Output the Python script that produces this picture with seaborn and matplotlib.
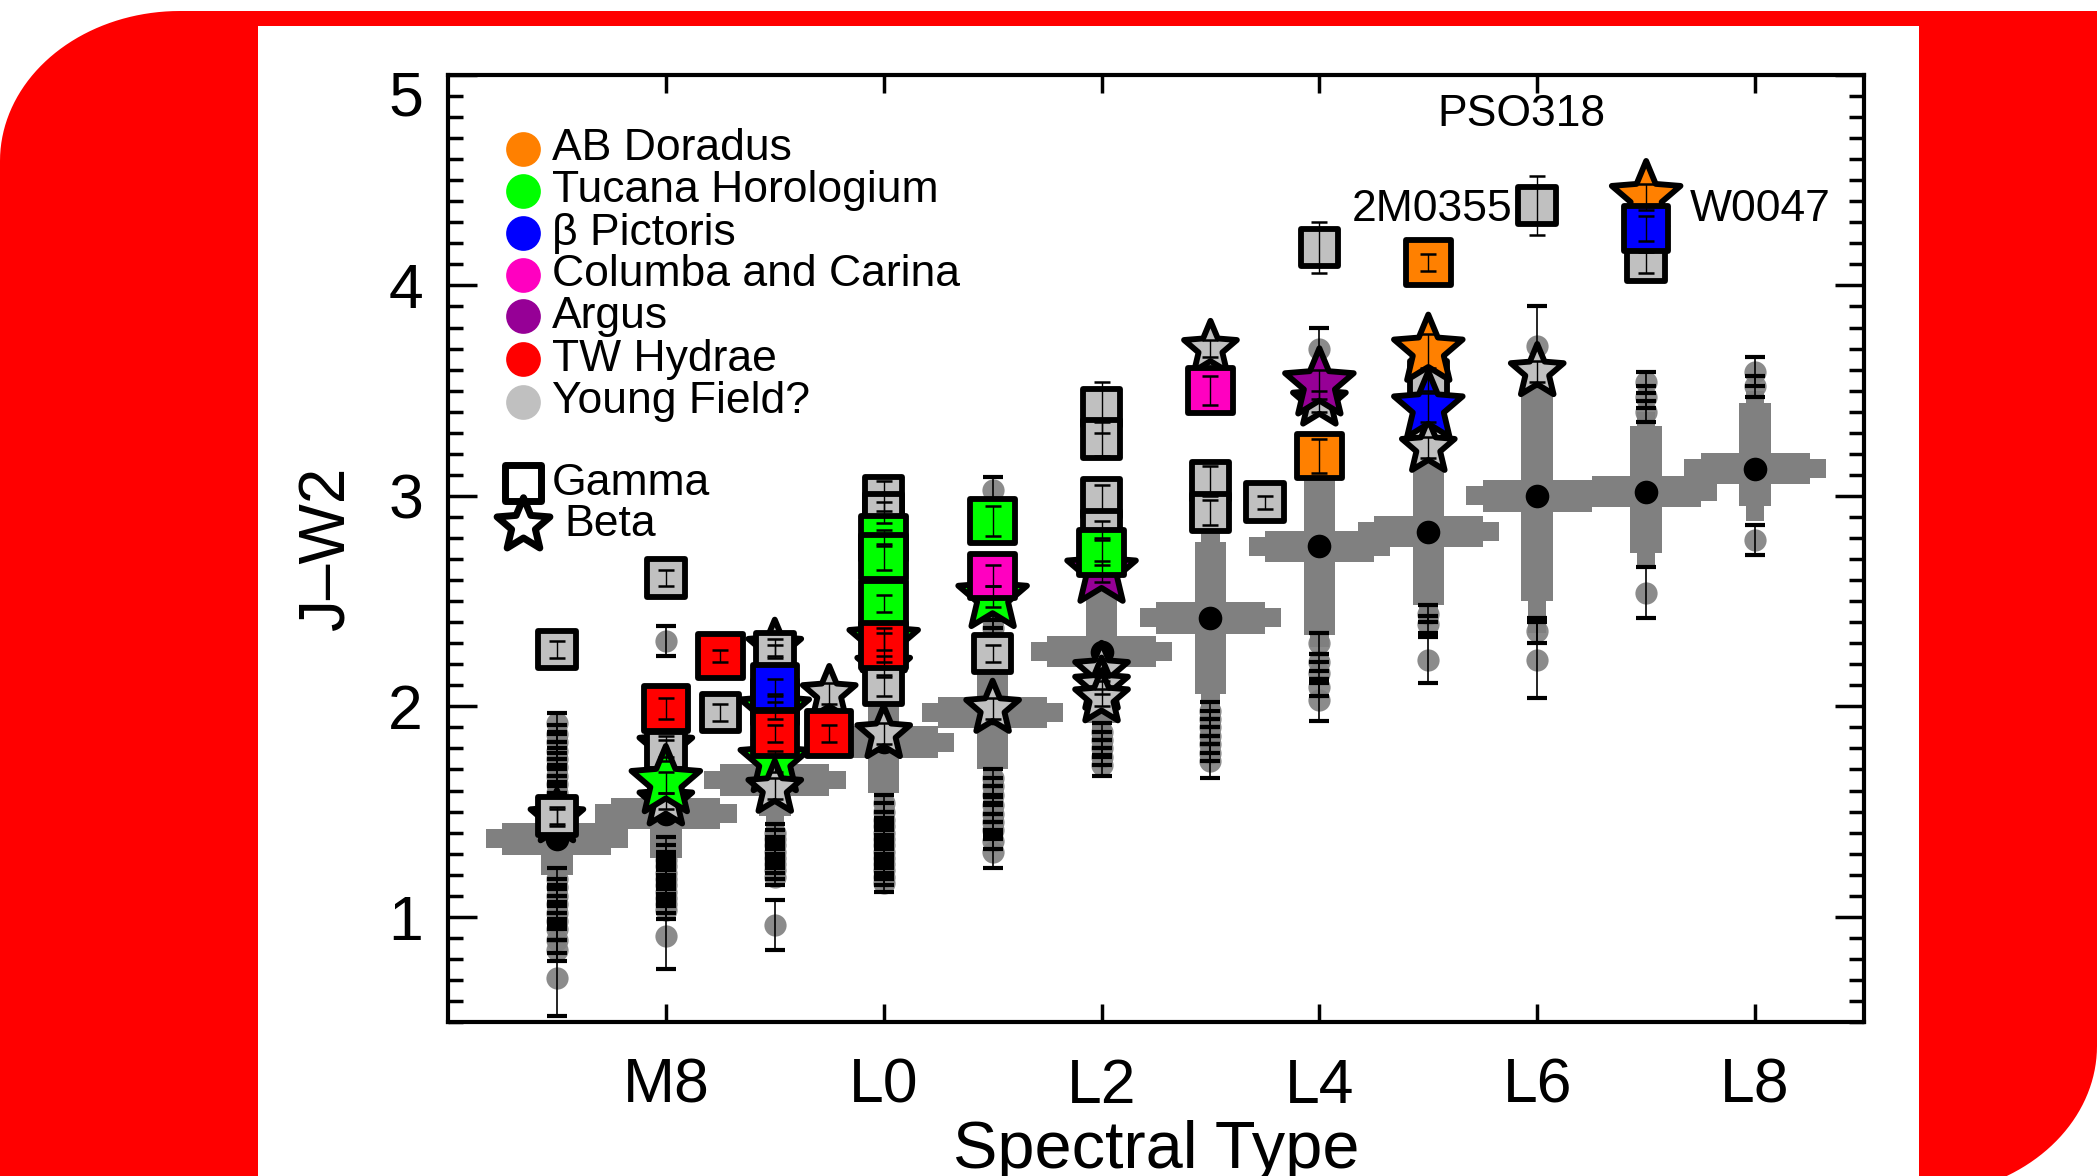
import numpy as np
import pandas as pd
import matplotlib.pyplot as plt
import seaborn as sns
from matplotlib.path import Path
from matplotlib.patches import Polygon, Rectangle
from matplotlib.ticker import MultipleLocator
from matplotlib.transforms import ScaledTranslation

sns.set_theme(style="ticks")
plt.rcParams['font.family'] = ['Liberation Sans', 'DejaVu Sans']
plt.rcParams['text.color'] = 'black'
plt.rcParams['axes.labelcolor'] = 'black'

## field sequence (grey crosses): spectral type, mean J-W2 and spread
cross_spt = [7, 8, 9, 10, 11, 12, 13, 14, 15, 16, 17, 18]
cross_mean = [1.37, 1.49, 1.65, 1.83, 1.97, 2.26, 2.42, 2.76, 2.83, 3.00, 3.02, 3.13]
cross_lo = [1.20, 1.28, 1.48, 1.59, 1.70, 1.92, 2.06, 2.34, 2.48, 2.50, 2.73, 2.95]
cross_hi = [1.56, 1.70, 1.84, 2.07, 2.28, 2.60, 2.78, 3.13, 3.16, 3.49, 3.33, 3.44]
cross_lo2 = [1.12, 1.22, 1.40, 1.52, 1.62, 1.85, 1.99, 2.28, 2.40, 2.35, 2.66, 2.88]
cross_hi2 = [1.62, 1.76, 1.90, 2.12, 2.36, 2.66, 2.84, 3.20, 3.24, 3.56, 3.40, 3.50]

## individual field objects per spectral type
m7_jw2 = [1.92, 1.87, 1.83, 1.79, 1.75, 1.71, 1.67, 1.63, 1.59, 1.55, 1.18, 1.14, 1.10, 1.06, 1.02, 0.98, 0.94, 0.89, 0.84, 0.71]
m7_err = [0.05, 0.04, 0.05, 0.04, 0.05, 0.04, 0.05, 0.04, 0.05, 0.04, 0.05, 0.04, 0.05, 0.04, 0.05, 0.04, 0.05, 0.06, 0.05, 0.18]
m8_jw2 = [2.31, 1.34, 1.30, 1.27, 1.24, 1.21, 1.18, 1.15, 1.12, 1.09, 1.06, 1.03, 0.91]
m8_err = [0.07, 0.04, 0.04, 0.04, 0.04, 0.04, 0.04, 0.04, 0.04, 0.04, 0.04, 0.04, 0.16]
m9_jw2 = [1.40, 1.37, 1.34, 1.31, 1.28, 1.25, 1.22, 1.19, 0.96]
m9_err = [0.04, 0.04, 0.04, 0.04, 0.04, 0.04, 0.04, 0.04, 0.12]
l0_jw2 = [1.54, 1.50, 1.46, 1.43, 1.40, 1.37, 1.34, 1.31, 1.28, 1.25, 1.22, 1.19, 1.16]
l0_err = [0.04, 0.04, 0.04, 0.04, 0.04, 0.04, 0.04, 0.04, 0.04, 0.04, 0.04, 0.04, 0.04]
l1_jw2 = [3.03, 2.41, 2.37, 1.66, 1.62, 1.58, 1.53, 1.49, 1.45, 1.41, 1.36, 1.31]
l1_err = [0.06, 0.04, 0.04, 0.04, 0.04, 0.04, 0.04, 0.04, 0.04, 0.04, 0.04, 0.08]
l2_jw2 = [1.88, 1.84, 1.80, 1.76, 1.72]
l2_err = [0.04, 0.04, 0.04, 0.04, 0.05]
l3_jw2 = [1.98, 1.94, 1.90, 1.86, 1.82, 1.78, 1.74]
l3_err = [0.04, 0.04, 0.04, 0.04, 0.04, 0.04, 0.08]
l4_jw2 = [3.70, 2.30, 2.21, 2.16, 2.09, 2.03]
l4_err = [0.10, 0.05, 0.04, 0.05, 0.04, 0.10]
l5_jw2 = [2.44, 2.39, 2.22]
l5_err = [0.04, 0.04, 0.11]
l6_jw2 = [3.71, 2.36, 2.22]
l6_err = [0.19, 0.06, 0.18]
l7_jw2 = [3.54, 3.47, 3.40, 2.54]
l7_err = [0.05, 0.05, 0.05, 0.12]
l8_jw2 = [3.59, 3.52, 2.79]
l8_err = [0.07, 0.05, 0.07]

## young objects (drawn in this order)
young_spt = [7, 7, 7, 8, 8, 8, 8, 8, 8, 8.5, 8.5,
             9, 9, 9, 9, 9, 9, 9, 9, 9.5, 9.5,
             10, 10, 10, 10, 10, 10, 10, 10, 10, 10,
             11, 11, 11, 11, 11,
             12, 12, 12, 12, 12, 12, 12, 12, 12,
             13, 13, 13, 13, 13.5,
             14, 14, 14, 14,
             15, 15, 15, 15, 15,
             16, 16,
             17, 17, 17]
young_jw2 = [2.27, 1.47, 1.48, 2.61, 1.81, 1.79, 1.99, 1.55, 1.64, 2.24, 1.97,
             2.28, 2.26, 1.98, 1.74, 2.02, 2.09, 1.87, 1.61, 2.06, 1.87,
             3.00, 2.92, 2.31, 2.19, 2.10, 2.80, 2.71, 2.49, 2.29, 1.87,
             2.88, 2.52, 2.62, 2.25, 1.99,
             3.42, 3.27, 2.99, 2.84, 2.64, 2.73, 2.17, 2.10, 2.04,
             3.70, 3.50, 3.07, 2.92, 2.97,
             4.18, 3.45, 3.53, 3.19,
             4.11, 3.55, 3.23, 3.42, 3.69,
             4.38, 3.59,
             4.11, 4.42, 4.27]
young_err = [0.04, 0.04, 0.04, 0.04, 0.05, 0.05, 0.05, 0.04, 0.05, 0.03, 0.04,
             0.04, 0.03, 0.04, 0.05, 0.04, 0.04, 0.04, 0.05, 0.05, 0.04,
             0.07, 0.05, 0.04, 0.05, 0.05, 0.04, 0.06, 0.04, 0.08, 0.05,
             0.07, 0.05, 0.05, 0.04, 0.05,
             0.12, 0.08, 0.06, 0.04, 0.05, 0.06, 0.05, 0.04, 0.04,
             0.04, 0.07, 0.07, 0.06, 0.03,
             0.12, 0.05, 0.07, 0.08,
             0.04, 0.05, 0.05, 0.07, 0.08,
             0.14, 0.05,
             0.05, 0.06, 0.06]
young_kind = ['gamma', 'beta', 'gamma', 'gamma', 'beta', 'gamma', 'gamma', 'beta', 'beta', 'gamma', 'gamma',
              'beta', 'gamma', 'beta', 'beta', 'gamma', 'gamma', 'gamma', 'beta', 'beta', 'gamma',
              'gamma', 'gamma', 'beta', 'beta', 'gamma', 'gamma', 'gamma', 'gamma', 'gamma', 'beta',
              'gamma', 'beta', 'gamma', 'gamma', 'beta',
              'gamma', 'gamma', 'gamma', 'gamma', 'beta', 'gamma', 'beta', 'beta', 'beta',
              'beta', 'gamma', 'gamma', 'gamma', 'gamma',
              'gamma', 'beta', 'beta', 'gamma',
              'gamma', 'gamma', 'beta', 'beta', 'beta',
              'gamma', 'beta',
              'gamma', 'beta', 'gamma']
young_group = ['YF', 'YF', 'YF', 'YF', 'YF', 'YF', 'TW', 'YF', 'TH', 'TW', 'YF',
               'YF', 'YF', 'TH', 'TH', 'BP', 'BP', 'TW', 'YF', 'YF', 'TW',
               'YF', 'YF', 'TH', 'YF', 'YF', 'TH', 'TH', 'TH', 'TW', 'YF',
               'TH', 'TH', 'CC', 'YF', 'YF',
               'YF', 'YF', 'YF', 'YF', 'AR', 'TH', 'YF', 'YF', 'YF',
               'YF', 'CC', 'YF', 'YF', 'YF',
               'YF', 'YF', 'AR', 'AB',
               'AB', 'YF', 'YF', 'BP', 'AB',
               'YF', 'YF',
               'YF', 'AB', 'BP']

group_codes = ['AB', 'TH', 'BP', 'CC', 'AR', 'TW', 'YF']
group_names = ['AB Doradus', 'Tucana Horologium', 'β Pictoris', 'Columba and Carina',
               'Argus', 'TW Hydrae', 'Young Field?']
group_colors = ['#ff8000', '#00ff00', '#0000ff', '#ff00c0', '#960096', '#ff0000', '#c0c0c0']
xtick_pos = [8, 10, 12, 14, 16, 18]
xtick_lab = ['M8', 'L0', 'L2', 'L4', 'L6', 'L8']

GREY = '#808080'
W, H = 2097, 1176

fig = plt.figure(figsize=(W / 100, H / 100), dpi=100, facecolor='white')

# red frame with two rounded corners, white panel on top
t = np.linspace(0, np.pi / 2, 40)
tl = np.column_stack([180 - 180 * np.cos(t), 161 - 150 * np.sin(t)])
br = np.column_stack([1917 + 180 * np.cos(t), 1046 + 150 * np.sin(t)])
frame = np.vstack([tl, [[W, 11]], br, [[0, 1196]]])
frame = np.column_stack([frame[:, 0] / W, 1 - frame[:, 1] / H])
fig.add_artist(Polygon(frame, closed=True, transform=fig.transFigure,
                       facecolor='#ff0000', edgecolor='none', zorder=-10))
fig.add_artist(Rectangle((258 / W, 0), (1919 - 258) / W, 1 - 26 / H, transform=fig.transFigure,
                         facecolor='white', edgecolor='none', zorder=-9))

ax = fig.add_axes([448 / W, 1 - 1022 / H, (1864 - 448) / W, (1022 - 75) / H])
ax.set_facecolor('white')

## grey crosses
spt = np.array(cross_spt, float)
mean = np.array(cross_mean)
lo, hi = np.array(cross_lo), np.array(cross_hi)
lo2, hi2 = np.array(cross_lo2), np.array(cross_hi2)
ax.barh(mean, 1.30, left=spt - 0.65, height=0.09, color=GREY, linewidth=0, zorder=2)
ax.barh(mean, 1.00, left=spt - 0.50, height=0.15, color=GREY, linewidth=0, zorder=2)
ax.bar(spt, hi2 - lo2, bottom=lo2, width=0.17, color=GREY, linewidth=0, zorder=2)
ax.bar(spt, hi - lo, bottom=lo, width=0.29, color=GREY, linewidth=0, zorder=2)

## field objects
cols = [(7, m7_jw2, m7_err), (8, m8_jw2, m8_err), (9, m9_jw2, m9_err),
        (10, l0_jw2, l0_err), (11, l1_jw2, l1_err), (12, l2_jw2, l2_err),
        (13, l3_jw2, l3_err), (14, l4_jw2, l4_err), (15, l5_jw2, l5_err),
        (16, l6_jw2, l6_err), (17, l7_jw2, l7_err), (18, l8_jw2, l8_err)]
field = pd.concat([pd.DataFrame({'spt': s, 'jw2': v, 'err': e}) for s, v, e in cols],
                  ignore_index=True)
sns.scatterplot(data=field, x='spt', y='jw2', color='#7f7f7f', s=16 ** 2, alpha=0.9,
                linewidth=0, ax=ax, zorder=3, legend=False)
ax.errorbar(field.spt, field.jw2, yerr=field.err, fmt='none', ecolor='black',
            elinewidth=1.2, capsize=7, capthick=3.0, zorder=4)

# mean of each spectral type
sns.scatterplot(x=cross_spt, y=cross_mean, color='black', s=17 ** 2, linewidth=0,
                ax=ax, zorder=5, legend=False)

## young objects
star = Path.unit_regular_star(5, innerCircle=0.45)
young = pd.DataFrame({'spt': young_spt, 'jw2': young_jw2, 'err': young_err,
                      'kind': young_kind, 'group': young_group})
young['sz'] = young.kind + np.where(young.group == 'YF', '_small', '_big')
sizes = {'gamma_big': 32 ** 2, 'gamma_small': 27 ** 2, 'beta_big': 52 ** 2, 'beta_small': 40 ** 2}
sns.scatterplot(data=young, x='spt', y='jw2', hue='group', style='kind', size='sz',
                palette=dict(zip(group_codes, group_colors)),
                markers={'gamma': 's', 'beta': star}, sizes=sizes,
                edgecolor='black', linewidth=4.2, ax=ax, zorder=6, legend=False)
ax.errorbar(young.spt, young.jw2, yerr=young.err, fmt='none', ecolor='black',
            elinewidth=1.0, capsize=6, capthick=1.8, zorder=7)

## legend
legend_y = [0.922, 0.878, 0.833, 0.789, 0.745, 0.700, 0.655]
for name, col, yy in zip(group_names, group_colors, legend_y):
    ax.scatter(0.053, yy, s=25 ** 2, color=col, linewidth=0, transform=ax.transAxes,
               clip_on=False, zorder=8)
    ax.text(0.0734, yy, name, transform=ax.transAxes, fontsize=32, va='center', ha='left')
ax.scatter(0.053, 0.569, s=26 ** 2, marker='s', facecolor='white', edgecolor='black',
           linewidth=5, transform=ax.transAxes, zorder=8)
ax.text(0.0734, 0.569, 'Gamma', transform=ax.transAxes, fontsize=32, va='center', ha='left')
ax.scatter(0.053, 0.525, s=40 ** 2, marker=star, facecolor='white', edgecolor='black',
           linewidth=5, transform=ax.transAxes, zorder=8)
ax.text(0.082, 0.525, 'Beta', transform=ax.transAxes, fontsize=32, va='center', ha='left')

## object labels
ax.text(15.85, 4.81, 'PSO318', fontsize=32, ha='center', va='center', zorder=8)
ax.text(15.77, 4.36, '2M0355', fontsize=32, ha='right', va='center', zorder=8)
ax.text(17.40, 4.36, 'W0047', fontsize=32, ha='left', va='center', zorder=8)

## axes
ax.set_xlim(6, 19)
ax.set_ylim(0.5, 5)
ax.set_xticks(xtick_pos, labels=xtick_lab)
ax.set_yticks([1, 2, 3, 4, 5])
ax.yaxis.set_minor_locator(MultipleLocator(0.1))
ax.tick_params(which='both', direction='in', top=True, right=True, width=2.5,
               color='black', labelcolor='black', labelsize=45)
ax.tick_params(axis='y', which='major', length=21, pad=18)
ax.tick_params(axis='y', which='minor', length=11)
ax.tick_params(axis='x', which='major', length=13, pad=25)
for s in ax.spines.values():
    s.set_linewidth(3)
    s.set_color('black')
# the original is cropped through this label, as here
ax.set_xlabel('Spectral Type', fontsize=48, labelpad=3)
ax.set_ylabel('J–W2', fontsize=46, labelpad=22)

# the top y label sits a little below its tick in the original
top_lab = ax.yaxis.get_major_ticks()[-1].label1
top_lab.set_transform(top_lab.get_transform() + ScaledTranslation(0, -0.18, fig.dpi_scale_trans))

fig.savefig('out.png', dpi=100)
